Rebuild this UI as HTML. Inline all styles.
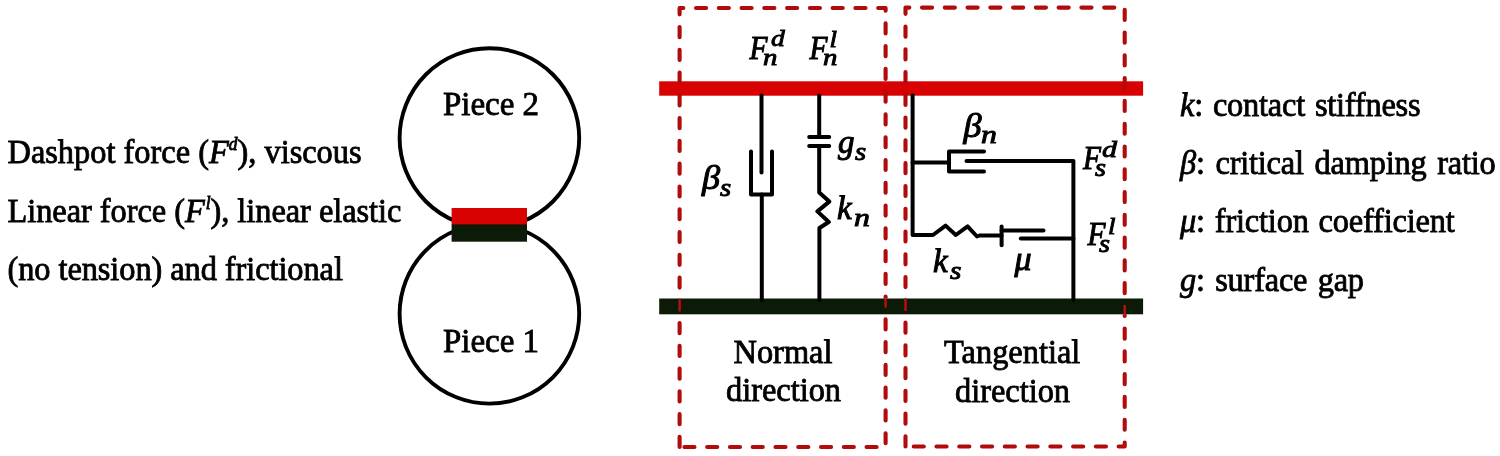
<!DOCTYPE html>
<html>
<head>
<meta charset="utf-8">
<title>Contact model</title>
<style>
html,body{margin:0;padding:0;background:#fff;}
body{width:1500px;height:456px;overflow:hidden;font-family:"Liberation Serif",serif;}
svg{display:block;}
text{font-family:"Liberation Serif",serif;fill:#000;}
.t{font-size:32.4px;stroke:#000;stroke-width:0.8px;}
.m{font-family:"Liberation Serif",serif;font-style:italic;stroke:#000;stroke-width:1.0px;}
.ms{font-family:"Liberation Serif",serif;font-style:italic;stroke:#000;stroke-width:0.9px;}
.ln{stroke:#000;stroke-width:4.0;fill:none;stroke-linejoin:round;stroke-linecap:round;}
.db{stroke:#b00c0c;stroke-width:4.1;fill:none;stroke-linecap:round;stroke-linejoin:round;}
</style>
</head>
<body>
<div style="will-change:transform;width:1500px;height:456px;">
<svg width="1500" height="456" viewBox="0 0 1500 456">

<!-- left text -->
<text class="t" transform="translate(7.5 163) scale(1 1.05)">Dashpot force (<tspan font-style="italic">F</tspan><tspan font-style="italic" font-size="17.5" dy="-12">d</tspan><tspan dy="12">), viscous</tspan></text>
<text class="t" letter-spacing="-0.04" transform="translate(7.5 221.6) scale(1 1.05)">Linear force (<tspan font-style="italic">F</tspan><tspan font-style="italic" font-size="17.5" dy="-12" dx="1">l</tspan><tspan dy="12">), linear elastic</tspan></text>
<text class="t" letter-spacing="-0.07" transform="translate(7.5 280.2) scale(1 1.05)">(no tension) and frictional</text>

<!-- circles -->
<circle cx="489.4" cy="138" r="89.8" fill="none" stroke="#000" stroke-width="3.9"/>
<circle cx="489.4" cy="313.8" r="89.8" fill="none" stroke="#000" stroke-width="3.9"/>
<rect x="451.6" y="224" width="75.4" height="17.7" fill="#0c1a08"/>
<rect x="451.6" y="208" width="75.4" height="16.4" fill="#d90202"/>
<text class="t" style="font-size:33px" text-anchor="middle" transform="translate(491 114.6) scale(1 1.05)">Piece 2</text>
<text class="t" style="font-size:33px" text-anchor="middle" transform="translate(491 352) scale(1 1.05)">Piece 1</text>

<!-- bars -->
<rect x="659.2" y="81.3" width="483.9" height="14.4" fill="#d90202"/>
<rect x="659.2" y="298.5" width="483.9" height="15.8" fill="#0c1a08"/>

<!-- normal circuit -->
<path class="ln" d="M761.5 95.6 V172.5"/>
<path class="ln" d="M751 151.6 V194.6 H772 V151.6"/>
<path class="ln" d="M761.8 194.6 V300"/>
<path class="ln" d="M819.2 95.6 V137"/>
<path class="ln" d="M809.2 137 H829.2 M809.2 146 H829.2"/>
<path class="ln" d="M819.2 146 V192.5 L829.3 201.6 L817.4 211.4 L828.8 222 L819.4 228 V300"/>

<!-- tangential circuit -->
<path class="ln" d="M912.6 95.6 V235 H933 L945.6 225.6 L955.8 235 L967.6 226.4 L977 236.5 L979.5 235.5 H1001.6"/>
<path class="ln" d="M912.6 162.5 H949"/>
<path class="ln" d="M984 151.6 H949 V171.6 H984"/>
<path class="ln" d="M966.5 161 H1073.4 V300"/>
<path class="ln" d="M1001.6 226.5 V245.2"/>
<path class="ln" d="M1001.6 230.6 H1043.5"/>
<path class="ln" d="M1020.8 238.6 H1073.4"/>

<!-- dashed boxes -->
<defs>
<clipPath id="cOut"><path d="M0 0H1500V298.5H0Z M0 314.3H1500V456H0Z"/></clipPath>
<clipPath id="cIn"><rect x="0" y="298.5" width="1500" height="15.8"/></clipPath>
</defs>
<g clip-path="url(#cOut)" class="db" stroke-dasharray="10.1 12.67">
<path d="M679.6 447 V8 H885.6 V447 Z"/><path d="M905.5 446.5 V7.6 H1124.7 V446.5 Z"/>
</g>
<g clip-path="url(#cIn)" class="db" stroke-dasharray="10.1 12.67" style="stroke-width:2.4;stroke:#c00d0d">
<path d="M679.6 447 V8 H885.6 V447 Z"/><path d="M905.5 446.5 V7.6 H1124.7 V446.5 Z"/>
</g>

<!-- box labels -->
<text class="t" text-anchor="middle" transform="translate(783 362.5) scale(1 1.05)">Normal</text>
<text class="t" text-anchor="middle" transform="translate(783.5 401.4) scale(1 1.05)">direction</text>
<text class="t" text-anchor="middle" transform="translate(1012.2 362.8) scale(1 1.05)">Tangential</text>
<text class="t" text-anchor="middle" transform="translate(1012.5 401.6) scale(1 1.05)">direction</text>

<!-- math labels -->
<text class="m" transform="translate(749.5 59) scale(0.89 1)" font-size="33">F</text>
<text class="ms" transform="translate(771 46) scale(1.15 1)" font-size="24">d</text>
<text class="ms" transform="translate(763 65) scale(1.2 1)" font-size="24">n</text>
<text class="m" transform="translate(809.5 59) scale(0.89 1)" font-size="33">F</text>
<text class="ms" transform="translate(829.5 46.5) scale(1.12 1)" font-size="24">l</text>
<text class="ms" transform="translate(823 65) scale(1.2 1)" font-size="24">n</text>
<text class="m" transform="translate(702 189) scale(1.1 1)" font-size="33">β</text>
<text class="ms" transform="translate(720 195.5) scale(1.15 1)" font-size="25">s</text>
<text class="m" transform="translate(838 153) scale(1.0 1)" font-size="33">g</text>
<text class="ms" transform="translate(855 159.5) scale(1.15 1)" font-size="25">s</text>
<text class="m" transform="translate(837 219) scale(1.0 1)" font-size="33">k</text>
<text class="ms" transform="translate(854 225.5) scale(1.3 1)" font-size="24.5">n</text>
<text class="m" transform="translate(963.5 137) scale(1.1 1)" font-size="33">β</text>
<text class="ms" transform="translate(981 142.8) scale(1.3 1)" font-size="24.5">n</text>
<text class="m" transform="translate(933 272) scale(1.0 1)" font-size="33">k</text>
<text class="ms" transform="translate(950 279) scale(1.15 1)" font-size="25.5">s</text>
<text class="m" transform="translate(1014.5 270) scale(1.03 1)" font-size="33">μ</text>
<text class="m" transform="translate(1083 169) scale(0.89 1)" font-size="33">F</text>
<text class="ms" transform="translate(1102 157) scale(1.25 1)" font-size="24">d</text>
<text class="ms" transform="translate(1095 176) scale(1.15 1)" font-size="24.5">s</text>
<text class="m" transform="translate(1087.5 245) scale(0.89 1)" font-size="33">F</text>
<text class="ms" transform="translate(1108 233.5) scale(1.12 1)" font-size="24">l</text>
<text class="ms" transform="translate(1099 252.3) scale(1.15 1)" font-size="24.5">s</text>

<!-- legend -->
<text class="t" word-spacing="2" letter-spacing="-0.2" transform="translate(1180 116) scale(1 1.05)"><tspan font-style="italic">k</tspan>: contact stiffness</text>
<text class="t" word-spacing="3" letter-spacing="-0.22" transform="translate(1180 174) scale(1 1.05)"><tspan font-style="italic">β</tspan>: critical damping ratio</text>
<text class="t" word-spacing="2" letter-spacing="-0.18" transform="translate(1180 232.4) scale(1 1.05)"><tspan font-style="italic">μ</tspan>: friction coefficient</text>
<text class="t" word-spacing="2.5" letter-spacing="-0.2" transform="translate(1180 291) scale(1 1.05)"><tspan font-style="italic">g</tspan>: surface gap</text>
</svg>
</div>
</body>
</html>
